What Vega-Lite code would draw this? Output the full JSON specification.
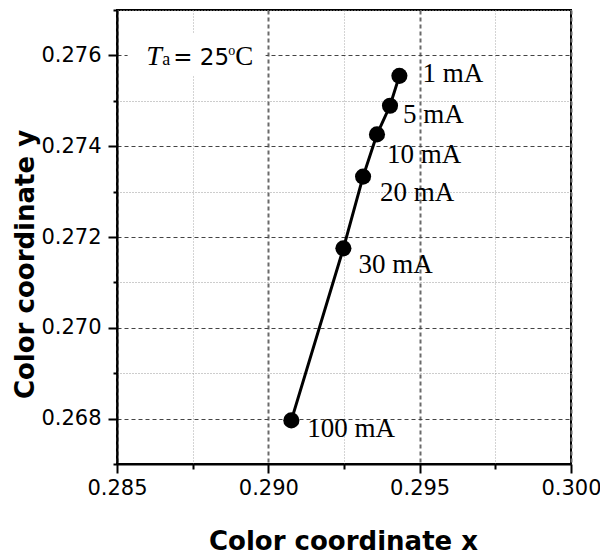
{
  "$schema": "https://vega.github.io/schema/vega-lite/v6.json",
  "width": 454,
  "height": 454,
  "autosize": {"type": "none"},
  "padding": {"left": 117, "top": 10, "right": 29, "bottom": 89},
  "background": "white",
  "config": {
    "view": {"stroke": "black", "strokeWidth": 2},
    "axis": {
      "domainColor": "black",
      "domainWidth": 2,
      "tickColor": "black",
      "tickWidth": 2,
      "labelFont": "DejaVu Sans",
      "labelFontSize": 21,
      "labelColor": "black",
      "titleFont": "DejaVu Sans",
      "titleFontSize": 26,
      "titleFontWeight": "bold",
      "titleColor": "black"
    }
  },
  "data": {
    "values": [
      {"current": "1 mA", "x": 0.29433, "y": 0.27555},
      {"current": "5 mA", "x": 0.29402, "y": 0.27489},
      {"current": "10 mA", "x": 0.29359, "y": 0.27426},
      {"current": "20 mA", "x": 0.29313, "y": 0.27333},
      {"current": "30 mA", "x": 0.29248, "y": 0.27175},
      {"current": "100 mA", "x": 0.29076, "y": 0.26796}
    ]
  },
  "encoding": {
    "x": {
      "field": "x",
      "type": "quantitative",
      "scale": {"domain": [0.285, 0.3], "nice": false, "zero": false},
      "axis": {
        "title": "Color coordinate x",
        "values": [0.285, 0.2875, 0.29, 0.2925, 0.295, 0.2975, 0.3],
        "labelExpr": "round(datum.value*400) % 2 == 0 ? format(datum.value, '.3f') : ''",
        "labelPadding": 4,
        "labelFlush": false,
        "grid": true,
        "gridColor": {"condition": {"test": "round(datum.value*400) % 2 == 0", "value": "#6a6a6a"}, "value": "#a8a8a8"},
        "gridDash": {"condition": {"test": "round(datum.value*400) % 2 == 0", "value": [4, 3]}, "value": [1, 2]},
        "gridWidth": {"condition": {"test": "round(datum.value*400) % 2 == 0", "value": 2}, "value": 1},
        "tickSize": {"condition": {"test": "round(datum.value*400) % 2 == 0", "value": 9}, "value": 5},
        "titleX": 226,
        "titleY": 85,
        "titleAlign": "center",
        "titleBaseline": "alphabetic"
      }
    },
    "y": {
      "field": "y",
      "type": "quantitative",
      "scale": {"domain": [0.267, 0.277], "nice": false, "zero": false},
      "axis": {
        "title": "Color coordinate y",
        "values": [0.267, 0.268, 0.269, 0.27, 0.271, 0.272, 0.273, 0.274, 0.275, 0.276, 0.277],
        "labelExpr": "round(datum.value*1000) % 2 == 0 ? format(datum.value, '.3f') : ''",
        "labelPadding": 7,
        "labelFlush": false,
        "grid": true,
        "gridColor": {"condition": {"test": "round(datum.value*1000) % 2 == 0", "value": "#444444"}, "value": "#9a9a9a"},
        "gridDash": {"condition": {"test": "round(datum.value*1000) % 2 == 0", "value": [4, 3]}, "value": [1, 2]},
        "gridWidth": 1,
        "tickSize": {"condition": {"test": "round(datum.value*1000) % 2 == 0", "value": 9}, "value": 4},
        "titleX": -84,
        "titleY": 254,
        "titleAngle": -90,
        "titleAlign": "center",
        "titleBaseline": "alphabetic"
      }
    }
  },
  "layer": [
    {
      "transform": [{"filter": "datum.current == '1 mA'"}],
      "mark": {"type": "rect", "fill": "white", "stroke": null},
      "encoding": {
        "x": {"datum": 0.28535},
        "x2": {"datum": 0.28991},
        "y": {"datum": 0.27649},
        "y2": {"datum": 0.27557}
      }
    },
    {
      "mark": {"type": "line", "color": "black", "strokeWidth": 3},
      "encoding": {"order": {"field": "y", "type": "quantitative"}}
    },
    {
      "mark": {"type": "point", "filled": true, "color": "black", "opacity": 1, "size": 260}
    },
    {
      "transform": [{"filter": "datum.current == '1 mA'"}],
      "mark": {"type": "text", "font": "Liberation Serif", "fontSize": 27, "align": "left", "baseline": "alphabetic", "dx": 23, "dy": 6, "color": "black"},
      "encoding": {"text": {"field": "current"}}
    },
    {
      "transform": [{"filter": "datum.current == '5 mA'"}],
      "mark": {"type": "text", "font": "Liberation Serif", "fontSize": 27, "align": "left", "baseline": "alphabetic", "dx": 13, "dy": 17, "color": "black"},
      "encoding": {"text": {"field": "current"}}
    },
    {
      "transform": [{"filter": "datum.current == '10 mA'"}],
      "mark": {"type": "text", "font": "Liberation Serif", "fontSize": 27, "align": "left", "baseline": "alphabetic", "dx": 10, "dy": 29, "color": "black"},
      "encoding": {"text": {"field": "current"}}
    },
    {
      "transform": [{"filter": "datum.current == '20 mA'"}],
      "mark": {"type": "text", "font": "Liberation Serif", "fontSize": 27, "align": "left", "baseline": "alphabetic", "dx": 17, "dy": 24, "color": "black"},
      "encoding": {"text": {"field": "current"}}
    },
    {
      "transform": [{"filter": "datum.current == '30 mA'"}],
      "mark": {"type": "text", "font": "Liberation Serif", "fontSize": 27, "align": "left", "baseline": "alphabetic", "dx": 15, "dy": 25, "color": "black"},
      "encoding": {"text": {"field": "current"}}
    },
    {
      "transform": [{"filter": "datum.current == '100 mA'"}],
      "mark": {"type": "text", "font": "Liberation Serif", "fontSize": 27, "align": "left", "baseline": "alphabetic", "dx": 16, "dy": 17, "color": "black"},
      "encoding": {"text": {"field": "current"}}
    },
    {
      "transform": [{"filter": "datum.current == '1 mA'"}],
      "mark": {"type": "text", "font": "Liberation Serif", "fontStyle": "italic", "fontSize": 28, "align": "left", "baseline": "alphabetic", "dx": -2, "color": "black"},
      "encoding": {"x": {"datum": 0.28603}, "y": {"datum": 0.27579}, "text": {"value": "T"}}
    },
    {
      "transform": [{"filter": "datum.current == '1 mA'"}],
      "mark": {"type": "text", "font": "Liberation Serif", "fontSize": 18, "align": "left", "baseline": "alphabetic", "dx": 14, "color": "black"},
      "encoding": {"x": {"datum": 0.28603}, "y": {"datum": 0.27579}, "text": {"value": "a"}}
    },
    {
      "transform": [{"filter": "datum.current == '1 mA'"}],
      "mark": {"type": "text", "font": "DejaVu Sans", "fontSize": 23, "align": "left", "baseline": "alphabetic", "dx": 25, "color": "black"},
      "encoding": {"x": {"datum": 0.28603}, "y": {"datum": 0.27579}, "text": {"value": "= 25"}}
    },
    {
      "transform": [{"filter": "datum.current == '1 mA'"}],
      "mark": {"type": "text", "font": "Liberation Serif", "fontSize": 14, "align": "left", "baseline": "alphabetic", "dx": 80, "dy": -10, "color": "black"},
      "encoding": {"x": {"datum": 0.28603}, "y": {"datum": 0.27579}, "text": {"value": "o"}}
    },
    {
      "transform": [{"filter": "datum.current == '1 mA'"}],
      "mark": {"type": "text", "font": "Liberation Serif", "fontSize": 27, "align": "left", "baseline": "alphabetic", "dx": 87, "color": "black"},
      "encoding": {"x": {"datum": 0.28603}, "y": {"datum": 0.27579}, "text": {"value": "C"}}
    }
  ]
}
